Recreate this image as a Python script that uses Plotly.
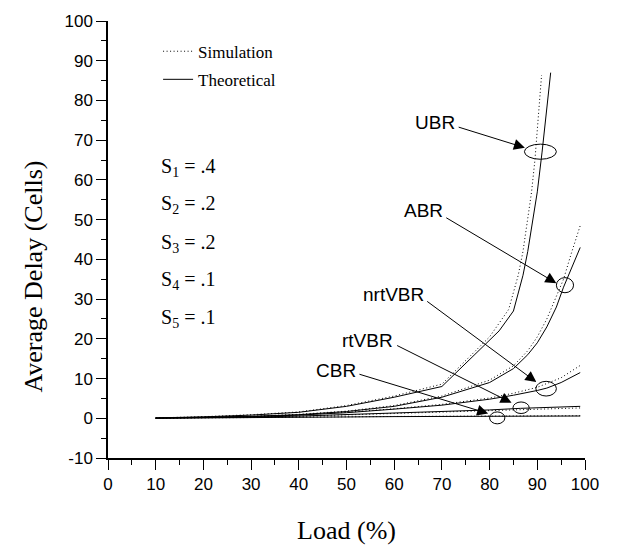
import plotly.graph_objects as go

# ---------------- data ----------------
ubr_th_x = [10, 20, 30, 40, 50, 60, 70, 75, 80, 82, 85, 87, 88, 89, 90, 91, 92, 92.8]
ubr_th_y = [0.1, 0.35, 0.8, 1.5, 3.0, 5.3, 8.0, 13.8, 19.6, 22, 27, 36, 42, 49, 57, 67, 78, 87]
ubr_sim_x = [10, 20, 30, 40, 50, 60, 70, 75, 80, 84, 86, 87, 88, 88.8, 89.5, 90.2, 90.9]
ubr_sim_y = [0.1, 0.4, 0.9, 1.6, 3.2, 5.6, 8.6, 14.5, 20.5, 27.4, 36, 42, 50, 57, 65, 75, 86.4]

abr_th_x = [10, 20, 30, 40, 50, 60, 70, 80, 85, 88, 90, 92, 94, 95.5, 97, 98.3, 99]
abr_th_y = [0.05, 0.2, 0.5, 0.9, 1.7, 3.0, 5.3, 9.0, 12.5, 16, 19, 23, 28, 33, 37.5, 41, 43]
abr_sim_x = [10, 20, 30, 40, 50, 60, 70, 80, 85, 88, 90, 92, 94, 95.5, 97, 99]
abr_sim_y = [0.05, 0.2, 0.5, 1.0, 1.8, 3.2, 5.6, 9.6, 13.2, 17, 20.5, 25, 31, 35, 41, 48.5]

nrt_th_x = [10, 20, 30, 40, 50, 60, 70, 80, 85, 90, 92, 95, 97, 99]
nrt_th_y = [0.03, 0.15, 0.4, 0.8, 1.4, 2.3, 3.3, 4.8, 5.8, 7.0, 7.6, 9.0, 10.2, 11.5]
nrt_sim_x = [10, 20, 30, 40, 50, 60, 70, 80, 85, 90, 95, 99]
nrt_sim_y = [0.03, 0.16, 0.42, 0.85, 1.5, 2.4, 3.5, 5.1, 6.3, 7.8, 10.2, 13.3]

rt_th_x = [10, 20, 30, 40, 50, 60, 70, 80, 86.5, 90, 99]
rt_th_y = [0.02, 0.12, 0.3, 0.55, 0.9, 1.3, 1.7, 2.1, 2.5, 2.65, 3.0]
rt_sim_x = [10, 20, 30, 40, 50, 60, 70, 80, 90, 99]
rt_sim_y = [0.02, 0.12, 0.28, 0.5, 0.85, 1.2, 1.6, 2.0, 2.4, 2.6]

cbr_th_x = [10, 20, 30, 40, 50, 60, 70, 80, 90, 99]
cbr_th_y = [0.01, 0.05, 0.12, 0.22, 0.33, 0.42, 0.48, 0.52, 0.55, 0.57]
cbr_sim_x = [10, 20, 30, 40, 50, 60, 70, 80, 90, 99]
cbr_sim_y = [0.01, 0.06, 0.14, 0.25, 0.36, 0.46, 0.53, 0.58, 0.62, 0.65]

# class labels: name, label pos, arrow tail, arrow tip, ellipse bounds
class_names = ["UBR", "ABR", "nrtVBR", "rtVBR", "CBR"]
label_x = [68.5, 66.2, 59.9, 54.4, 47.9]
label_y = [74.4, 52.4, 31.2, 19.5, 12.0]
tail_x = [73.2, 70.6, 66.6, 60.3, 52.4]
tail_y = [73.4, 50.7, 29.7, 18.5, 11.2]
tip_x = [87.4, 94.0, 89.8, 84.6, 79.7]
tip_y = [68.1, 34.0, 9.1, 3.9, 1.2]
ell_x0 = [87.3, 94.0, 89.7, 84.9, 80.0]
ell_x1 = [94.0, 97.6, 94.0, 88.3, 83.2]
ell_y0 = [65.2, 31.6, 5.6, 1.2, -1.4]
ell_y1 = [69.0, 35.4, 9.3, 4.1, 1.6]

share_text = ["S<sub>1</sub> = .4", "S<sub>2</sub> = .2", "S<sub>3</sub> = .2",
              "S<sub>4</sub> = .1", "S<sub>5</sub> = .1"]
share_y = [63.2, 53.7, 44.0, 34.6, 25.0]

x_ticks = list(range(0, 101, 10))
y_ticks = list(range(-10, 101, 10))
y_tick_text = [str(v) for v in y_ticks]  # plain hyphen for -10

SERIF = "Liberation Serif, Times New Roman, serif"
SANS = "Liberation Sans, Arial, sans-serif"

# ---------------- figure ----------------
fig = go.Figure()
sims = [(ubr_sim_x, ubr_sim_y), (abr_sim_x, abr_sim_y), (nrt_sim_x, nrt_sim_y),
        (rt_sim_x, rt_sim_y), (cbr_sim_x, cbr_sim_y)]
ths = [(ubr_th_x, ubr_th_y), (abr_th_x, abr_th_y), (nrt_th_x, nrt_th_y),
       (rt_th_x, rt_th_y), (cbr_th_x, cbr_th_y)]
for i, (sx, sy) in enumerate(sims):
    fig.add_trace(go.Scatter(x=sx, y=sy, mode="lines", name="Simulation",
                             legendgroup="sim", showlegend=(i == 0),
                             line=dict(color="black", width=1, dash="1px,2.5px")))
for i, (tx, ty) in enumerate(ths):
    fig.add_trace(go.Scatter(x=tx, y=ty, mode="lines", name="Theoretical",
                             legendgroup="th", showlegend=(i == 0),
                             line=dict(color="black", width=1)))

for i, name in enumerate(class_names):
    fig.add_annotation(x=label_x[i], y=label_y[i], text=name, showarrow=False,
                       font=dict(family=SANS, size=19, color="black"))
    fig.add_annotation(x=tip_x[i], y=tip_y[i], ax=tail_x[i], ay=tail_y[i],
                       xref="x", yref="y", axref="x", ayref="y", text="",
                       showarrow=True, arrowhead=2, arrowsize=2.2, arrowwidth=1,
                       arrowcolor="black", standoff=0, startstandoff=0)
    fig.add_shape(type="circle", xref="x", yref="y", x0=ell_x0[i], x1=ell_x1[i],
                  y0=ell_y0[i], y1=ell_y1[i], line=dict(color="black", width=1))

for t, yy in zip(share_text, share_y):
    fig.add_annotation(x=10.6, y=yy, text=t, showarrow=False, xanchor="left",
                       font=dict(family=SERIF, size=20, color="black"))

# y-axis title (placed slightly below the plot centre, as in the reference)
fig.add_annotation(xref="paper", yref="y", x=-0.157, y=35.7, text="Average Delay (Cells)",
                   textangle=-90, showarrow=False, xanchor="center", yanchor="middle",
                   font=dict(family=SERIF, size=26, color="black"))

fig.update_layout(
    width=620, height=552,
    margin=dict(l=108, r=35, t=17, b=94),
    paper_bgcolor="white", plot_bgcolor="white",
    showlegend=True,
    legend=dict(x=0.105, y=0.971, xanchor="left", yanchor="top",
                bgcolor="rgba(0,0,0,0)", borderwidth=0, tracegroupgap=3,
                font=dict(family=SERIF, size=17, color="black")),
    xaxis=dict(range=[0, 100], tickvals=x_ticks, ticks="outside", ticklen=10,
               tickwidth=1.2, tickcolor="black", showline=True, linecolor="black",
               linewidth=1.5, showgrid=False, zeroline=False,
               minor=dict(dtick=5, ticks="outside", ticklen=5, tickwidth=1.2, tickcolor="black"),
               tickfont=dict(family=SANS, size=17, color="black"),
               title=dict(text="Load (%)", standoff=28,
                          font=dict(family=SERIF, size=26, color="black"))),
    yaxis=dict(range=[-10, 100], tickvals=y_ticks, ticktext=y_tick_text, ticks="outside",
               ticklen=10, tickwidth=1.2, tickcolor="black", showline=True, linecolor="black",
               linewidth=1.5, showgrid=False, zeroline=False,
               minor=dict(dtick=5, ticks="outside", ticklen=5, tickwidth=1.2, tickcolor="black"),
               tickfont=dict(family=SANS, size=17, color="black")),
)

fig.write_html("out.html")
